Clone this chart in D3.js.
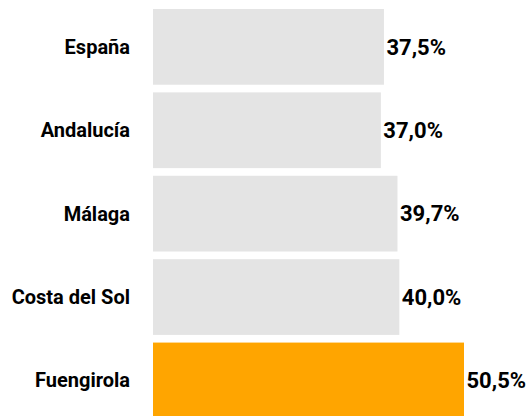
<!DOCTYPE html>
<html>
<head>
<meta charset="utf-8">
<script src="https://cdn.jsdelivr.net/npm/d3@7"></script>
<style>
  body { margin: 0; background: #fff; }
  text { font-family: Roboto, sans-serif; font-weight: bold; }
</style>
</head>
<body>
<svg width="530" height="416"></svg>
<script>
var places = ["España", "Andalucía", "Málaga", "Costa del Sol", "Fuengirola"];
var values = [37.5, 37.0, 39.7, 40.0, 50.5];
var highlight = "Fuengirola";

var svg = d3.select("svg"),
    width = +svg.attr("width"),
    height = +svg.attr("height");

var data = places.map(function(d, i) { return {name: d, value: values[i]}; });

var x = d3.scaleLinear()
    .domain([0, 50.5])
    .range([153, 464]);

// step ~83.4px, bar ~75.7px
var y = d3.scaleBand()
    .domain(places)
    .range([9, 418.3])
    .paddingInner(0.092)
    .paddingOuter(0);

var fmt = function(v) { return v.toFixed(1).replace(".", ",") + "%"; };

svg.selectAll(".bar")
  .data(data)
  .enter().append("rect")
    .attr("class", "bar")
    .attr("x", x(0))
    .attr("y", function(d) { return y(d.name); })
    .attr("width", function(d) { return x(d.value) - x(0); })
    .attr("height", y.bandwidth())
    .attr("fill", function(d) { return d.name == highlight ? "#ffa500" : "#e4e4e4"; });

svg.selectAll(".name")
  .data(data)
  .enter().append("text")
    .attr("class", "name")
    .attr("x", 130)
    .attr("y", function(d) { return y(d.name) + y.bandwidth() / 2; })
    .attr("dy", "0.35em")
    .attr("text-anchor", "end")
    .attr("font-size", "20px")
    .text(function(d) { return d.name; });

svg.selectAll(".val")
  .data(data)
  .enter().append("text")
    .attr("class", "val")
    .attr("x", function(d) { return x(d.value) + 2.5; })
    .attr("y", function(d) { return y(d.name) + y.bandwidth() / 2; })
    .attr("dy", "0.35em")
    .attr("font-size", "22px")
    .text(function(d) { return fmt(d.value); });
</script>
</body>
</html>
